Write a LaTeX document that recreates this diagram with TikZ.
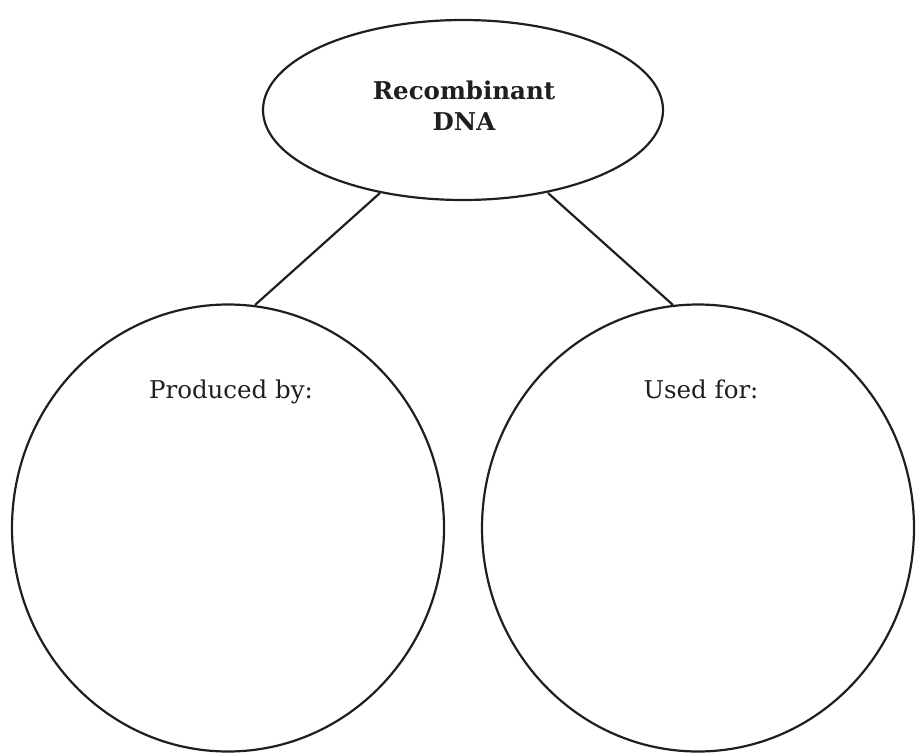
\documentclass[tikz,border=0pt]{standalone}
\usepackage{fontspec}
\setmainfont{DejaVu Serif}
\usetikzlibrary{shapes.geometric}
\begin{document}
\begin{tikzpicture}[x=1pt,y=-1pt,
  outline/.style={draw=black!88, line width=2.2pt},
  topic/.style={outline, ellipse, minimum width=400pt, minimum height=180pt, inner sep=0pt},
  bubble/.style={outline, ellipse, minimum width=432pt, minimum height=447pt, inner sep=0pt},
  heading/.style={font=\fontsize{24.5}{31}\selectfont, text=black!88, inner sep=0pt},
  link/.style={draw=black!88, line width=2.2pt}]
  \useasboundingbox (0,0) rectangle (924,755);
  % central concept and the two branches
  \node[topic] (dna) at (463,110) {};
  \node[bubble] (made) at (228,528) {};
  \node[bubble] (uses) at (698,528) {};
  \node[heading, align=center, font=\bfseries\fontsize{24.5}{31}\selectfont] (dnatext) at (464,106) {Recombinant\\DNA};
  \node[heading, anchor=base] (madetext) at (231,398) {Produced by:};
  \node[heading, anchor=base] (usestext) at (701,398) {Used for:};
  % connectors
  \coordinate (l1) at (380,193);
  \coordinate (l2) at (255,305);
  \coordinate (r1) at (548,193);
  \coordinate (r2) at (673,305);
  \draw[link] (l1) -- (l2);
  \draw[link] (r1) -- (r2);
\end{tikzpicture}
\end{document}
